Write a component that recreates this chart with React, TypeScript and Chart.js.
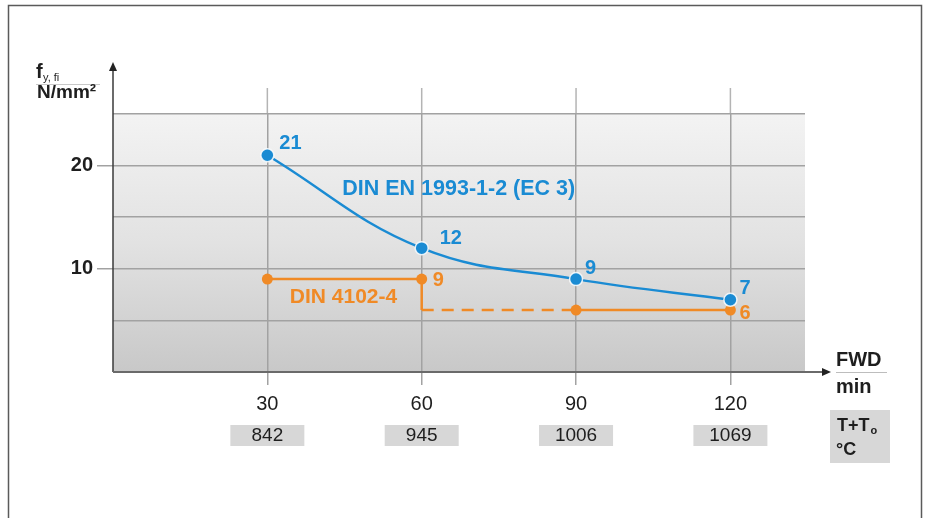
import React, { useEffect, useRef } from 'react';
import { Chart, registerables } from 'chart.js';

Chart.register(...registerables);

// ---- data ----
const minutes = [30, 60, 90, 120];
const temperatures = ['842', '945', '1006', '1069'];
const ecValues = [21, 12, 9, 7];
const dinMinutes = [30, 60, 60, 90, 120];
const dinValues = [9, 9, 6, 6, 6];
const dinMarkerShown = [true, true, false, true, true];
const dinDashedSegment = 2;
const yLabeledTicks = [10, 20];
const ecLabel = 'DIN EN 1993-1-2 (EC 3)';
const dinLabel = 'DIN 4102-4';
const ecLabelAt = { x: 67.2, y: 17.7 };
const dinLabelAt = { x: 44.8, y: 7.2 };

// ---- styling ----
const BLUE = '#1a8bd3';
const ORANGE = '#f08a26';
const FONT = "'Liberation Sans', Arial, sans-serif";
const GRID = '#a2a2a2';
const ecLabelOffsets = [[12, -12], [18, -10], [9, -11], [9, -11]];
const dinLabelOffsets = [[0, 0], [11, 1], [0, 0], [0, 0], [9, 3]];
const dinLabelShown = [false, true, false, false, true];

const decor = {
  id: 'decor',
  beforeDraw(chart: any) {
    const { ctx, chartArea: a, width, height } = chart;
    ctx.save();
    ctx.fillStyle = '#fff';
    ctx.fillRect(0, 0, width, height);
    const g = ctx.createLinearGradient(0, a.top, 0, a.bottom);
    g.addColorStop(0, '#f3f3f3');
    g.addColorStop(0.5, '#e2e2e2');
    g.addColorStop(1, '#c8c8c8');
    ctx.fillStyle = g;
    ctx.fillRect(a.left, a.top, a.right - a.left, a.bottom - a.top);
    // vertical grid extension above the plot
    const xs = chart.scales.x;
    ctx.strokeStyle = '#b4b4b4';
    ctx.lineWidth = 1.5;
    minutes.forEach((m) => {
      const px = xs.getPixelForValue(m);
      ctx.beginPath();
      ctx.moveTo(px, a.top - 26);
      ctx.lineTo(px, a.top);
      ctx.stroke();
    });
    // frame
    ctx.strokeStyle = '#5a5a5a';
    ctx.lineWidth = 1.5;
    ctx.beginPath();
    ctx.moveTo(8.5, height);
    ctx.lineTo(8.5, 5.5);
    ctx.lineTo(921.5, 5.5);
    ctx.lineTo(921.5, height);
    ctx.stroke();
    ctx.restore();
  },
  beforeDatasetsDraw(chart: any) {
    const { ctx, chartArea: a } = chart;
    ctx.save();
    ctx.strokeStyle = '#3a3a3a';
    ctx.fillStyle = '#222';
    ctx.lineWidth = 1.5;
    // y axis
    ctx.beginPath();
    ctx.moveTo(a.left, a.bottom);
    ctx.lineTo(a.left, 70);
    ctx.stroke();
    ctx.beginPath();
    ctx.moveTo(a.left, 62);
    ctx.lineTo(a.left - 4, 71);
    ctx.lineTo(a.left + 4, 71);
    ctx.closePath();
    ctx.fill();
    // x axis
    ctx.strokeStyle = '#6a6a6a';
    ctx.lineWidth = 2;
    ctx.beginPath();
    ctx.moveTo(a.left, a.bottom);
    ctx.lineTo(823, a.bottom);
    ctx.stroke();
    ctx.beginPath();
    ctx.moveTo(831, a.bottom);
    ctx.lineTo(822, a.bottom - 4);
    ctx.lineTo(822, a.bottom + 4);
    ctx.closePath();
    ctx.fill();
    ctx.restore();
  },
  afterDraw(chart: any) {
    const { ctx, chartArea: a } = chart;
    const xs = chart.scales.x;
    const ys = chart.scales.y;
    ctx.save();
    ctx.textBaseline = 'middle';
    // EC3 value labels
    ctx.font = `bold 20px ${FONT}`;
    ctx.fillStyle = BLUE;
    ctx.textAlign = 'left';
    ecValues.forEach((v, i) => {
      const px = xs.getPixelForValue(minutes[i]);
      const py = ys.getPixelForValue(v);
      ctx.fillText(String(v), px + ecLabelOffsets[i][0], py + ecLabelOffsets[i][1]);
    });
    ctx.textAlign = 'center';
    ctx.font = `bold 21.5px ${FONT}`;
    ctx.fillText(ecLabel, xs.getPixelForValue(ecLabelAt.x), ys.getPixelForValue(ecLabelAt.y));
    // DIN value labels
    ctx.font = `bold 20px ${FONT}`;
    ctx.fillStyle = ORANGE;
    ctx.textAlign = 'left';
    dinValues.forEach((v, i) => {
      if (!dinLabelShown[i]) return;
      const px = xs.getPixelForValue(dinMinutes[i]);
      const py = ys.getPixelForValue(v);
      ctx.fillText(String(v), px + dinLabelOffsets[i][0], py + dinLabelOffsets[i][1]);
    });
    ctx.textAlign = 'center';
    ctx.font = `bold 21px ${FONT}`;
    ctx.fillText(dinLabel, xs.getPixelForValue(dinLabelAt.x), ys.getPixelForValue(dinLabelAt.y));

    // temperature boxes
    ctx.font = `19px ${FONT}`;
    temperatures.forEach((t, i) => {
      const px = xs.getPixelForValue(minutes[i]);
      ctx.fillStyle = '#d7d7d7';
      ctx.fillRect(px - 37, a.bottom + 53, 74, 21);
      ctx.fillStyle = '#1e1e1e';
      ctx.textAlign = 'center';
      ctx.fillText(t, px, a.bottom + 64);
    });

    // x-axis title
    ctx.fillStyle = '#1e1e1e';
    ctx.textAlign = 'left';
    ctx.font = `bold 20px ${FONT}`;
    ctx.fillText('FWD', 836, a.bottom - 12);
    ctx.strokeStyle = '#bdbdbd';
    ctx.lineWidth = 1;
    ctx.beginPath();
    ctx.moveTo(836, a.bottom + 0.5);
    ctx.lineTo(887, a.bottom + 0.5);
    ctx.stroke();
    ctx.fillText('min', 836, a.bottom + 15);

    // temperature title box
    ctx.fillStyle = '#d7d7d7';
    ctx.fillRect(830, a.bottom + 38, 60, 53);
    ctx.fillStyle = '#1e1e1e';
    ctx.font = `bold 18px ${FONT}`;
    ctx.fillText('T+T', 837, a.bottom + 54);
    const w = ctx.measureText('T+T').width;
    ctx.font = `bold 11px ${FONT}`;
    ctx.fillText('o', 837 + w + 1, a.bottom + 59);
    ctx.font = `bold 18px ${FONT}`;
    ctx.fillText('°C', 836, a.bottom + 78);

    // y-axis title
    ctx.font = `bold 20px ${FONT}`;
    ctx.fillText('f', 36, 72);
    ctx.font = `11px ${FONT}`;
    ctx.fillText('y, fi', 43, 78);
    ctx.strokeStyle = '#c8c8c8';
    ctx.beginPath();
    ctx.moveTo(36, 84.5);
    ctx.lineTo(100, 84.5);
    ctx.stroke();
    ctx.font = `bold 19px ${FONT}`;
    ctx.fillStyle = '#1e1e1e';
    ctx.fillText('N/mm²', 37, 93);
    ctx.restore();
  },
};

export default function App() {
  const ref = useRef<HTMLCanvasElement | null>(null);

  useEffect(() => {
    document.body.style.margin = '0';
    const canvas = ref.current;
    if (!canvas) return;
    const chart = new Chart(canvas, {
      type: 'line',
      data: {
        datasets: [
          {
            label: ecLabel,
            data: minutes.map((m, i) => ({ x: m, y: ecValues[i] })),
            borderColor: BLUE,
            backgroundColor: BLUE,
            borderWidth: 2.5,
            tension: 0.4,
            pointRadius: 6.5,
            pointBorderColor: 'rgba(255,255,255,0.85)',
            pointBorderWidth: 1.5,
            pointBackgroundColor: BLUE,
          },
          {
            label: dinLabel,
            data: dinMinutes.map((m, i) => ({ x: m, y: dinValues[i] })),
            borderColor: ORANGE,
            backgroundColor: ORANGE,
            borderWidth: 2.5,
            tension: 0,
            pointRadius: dinMarkerShown.map((s) => (s ? 5.5 : 0)),
            pointBorderWidth: 0,
            pointBackgroundColor: ORANGE,
            segment: {
              borderDash: (c: any) => (c.p0DataIndex === dinDashedSegment ? [12, 8] : undefined),
            },
          },
        ],
      },
      options: {
        responsive: false,
        animation: false,
        devicePixelRatio: 1,
        layout: { padding: { left: 0, top: 114, right: 122, bottom: 0 } },
        plugins: { legend: { display: false }, tooltip: { enabled: false } },
        scales: {
          x: {
            type: 'linear',
            min: 0,
            max: 134.5,
            afterFit: (s: any) => { s.height = 146; },
            afterBuildTicks: (s: any) => { s.ticks = minutes.map((m) => ({ value: m })); },
            border: { display: false },
            grid: { color: GRID, lineWidth: 1.5, tickLength: 13, tickColor: GRID },
            ticks: {
              color: '#1e1e1e',
              font: { family: FONT, size: 20 },
              padding: 7,
              maxRotation: 0,
              autoSkip: false,
            },
          },
          y: {
            min: 0,
            max: 25,
            afterFit: (s: any) => { s.width = 113; },
            border: { display: false },
            grid: {
              color: GRID,
              lineWidth: 1.5,
              tickLength: 16,
              tickColor: (c: any) => (c.tick && yLabeledTicks.includes(c.tick.value) ? GRID : 'rgba(0,0,0,0)'),
            },
            ticks: {
              stepSize: 5,
              color: '#1e1e1e',
              font: { family: FONT, size: 20, weight: 'bold' },
              padding: 4,
              callback: (v: any) => (yLabeledTicks.includes(v) ? String(v) : ''),
            },
          },
        },
      },
      plugins: [decor],
    } as any);
    return () => chart.destroy();
  }, []);

  return <canvas ref={ref} width={927} height={518} style={{ display: 'block' }} />;
}
